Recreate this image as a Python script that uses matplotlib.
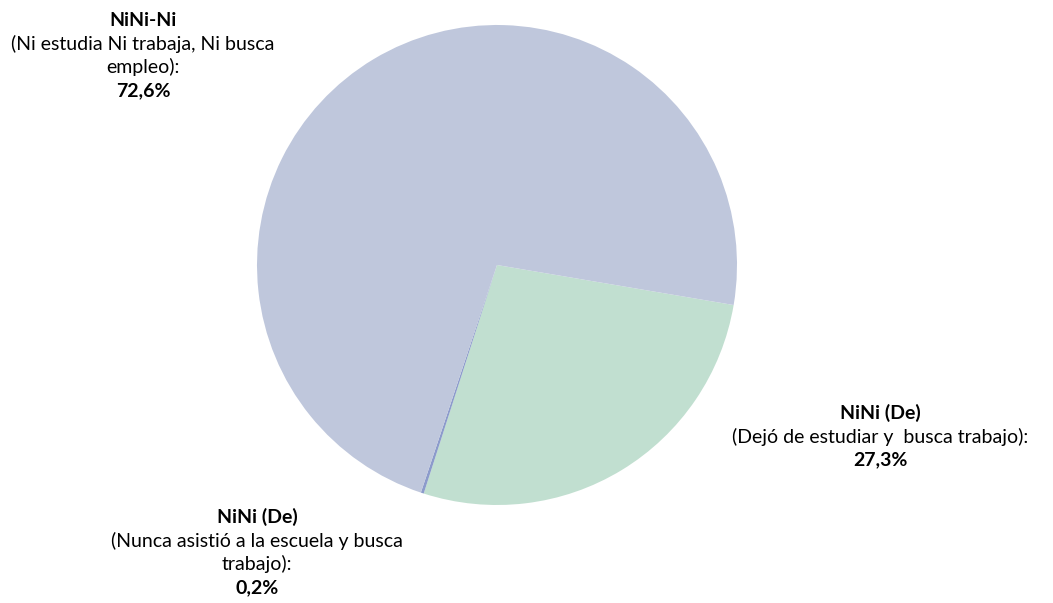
import matplotlib
matplotlib.use('Agg')
import matplotlib.pyplot as plt

# Datos del gráfico
categorias = ['NiNi (De)\n(Dejó de estudiar y  busca trabajo)',
              'NiNi (De)\n(Nunca asistió a la escuela y busca trabajo)',
              'NiNi-Ni\n(Ni estudia Ni trabaja, Ni busca empleo)']
valores = [27.3, 0.2, 72.6]
colores = ['#C1DFD0', '#8C9BCB', '#BFC7DC']

# Etiquetas: titulo en negrita, descripcion en normal, porcentaje en negrita
etiquetas = [
    ('NiNi (De)', ['(Dejó de estudiar y  busca trabajo):'], '27,3%'),
    ('NiNi (De)', ['(Nunca asistió a la escuela y busca', 'trabajo):'], '0,2%'),
    ('NiNi-Ni', ['(Ni estudia Ni trabaja, Ni busca', 'empleo):'], '72,6%'),
]

plt.rcParams['font.family'] = ['Lato', 'DejaVu Sans']

fig = plt.figure(figsize=(10.53, 6.03), dpi=100)
ax = fig.add_axes([0, 0, 1, 1])

ax.pie(valores, colors=colores, startangle=-9.6, counterclock=False,
       center=(497, 338), radius=240, frame=True,
       wedgeprops={'linewidth': 0})
ax.set_xlim(0, 1053)
ax.set_ylim(0, 603)
ax.set_aspect('equal')
ax.axis('off')

# posiciones (x centro, y de la primera linea en pixeles desde arriba)
posiciones = [(880, 413), (257, 517), (143, 20)]
paso = 23.5
for (titulo, lineas, pct), (x, y0) in zip(etiquetas, posiciones):
    textos = [(titulo, 'bold')] + [(l, 'normal') for l in lineas] + [(pct, 'bold')]
    for i, (t, peso) in enumerate(textos):
        ax.text(x, 603 - (y0 + i * paso), t, ha='center', va='center',
                fontsize=14, fontweight=peso, color='black')

fig.savefig('out.png', dpi=100)
